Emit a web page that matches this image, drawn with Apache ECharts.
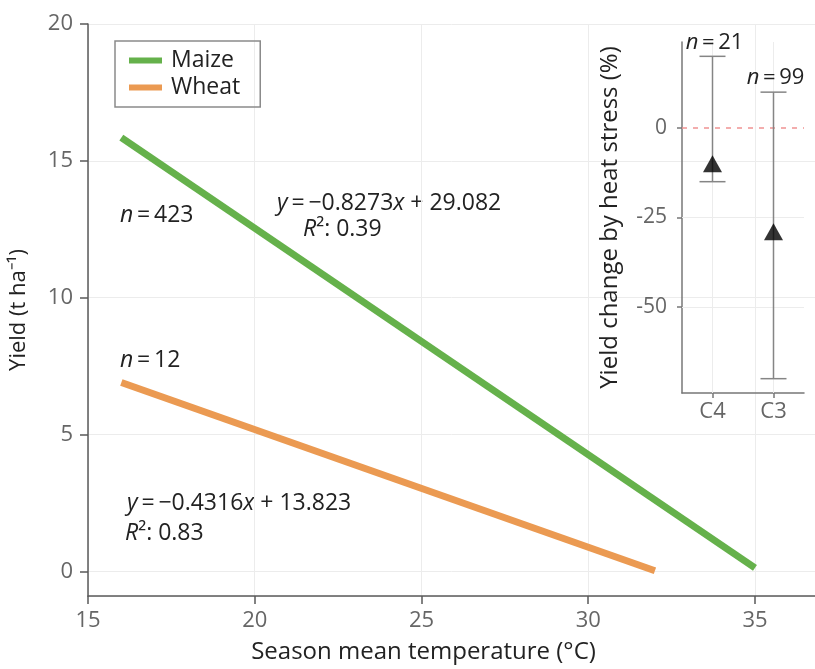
<!DOCTYPE html>
<html>
<head>
<meta charset="utf-8">
<script src="https://cdn.jsdelivr.net/npm/echarts@6/dist/echarts.min.js"></script>
<style>
  html, body { margin: 0; padding: 0; background: #fff; }
  #chart { width: 815px; height: 669px; }
</style>
</head>
<body>
<div id="chart"></div>
<script>
// main panel: fitted regression lines, end points
const maizeTemp = [16, 35];
const maizeYield = [15.85, 0.13];
const wheatTemp = [16, 32];
const wheatYield = [6.9, 0.02];

// inset: yield change by heat stress (%)
const insetCats = ['C4', 'C3'];
const insetMean = [-10, -29];
const insetLow = [-15, -70];
const insetHigh = [20, 10];
const insetN = [21, 99];
const insetTicks = [0, -25, -50];

const FONT = "'Open Sans', 'Liberation Sans', sans-serif";
const GREEN = '#65b14b';
const ORANGE = '#eb9a52';
const AXIS = '#5a5a5a';
const GRIDLINE = '#ececec';
const INK = '#222';
const TS = '\u2009'; // tight space around "="

const chart = echarts.init(document.getElementById('chart'));

const italic = { fontStyle: 'italic', fontSize: 23, fill: INK, fontFamily: FONT };
function note(x, y, text) {
    return {
        type: 'text',
        x: x,
        y: y,
        style: {
            text: text,
            rich: { i: italic },
            fontSize: 23,
            fontFamily: FONT,
            fill: INK,
            verticalAlign: 'middle'
        }
    };
}

const option = {
    animation: false,
    backgroundColor: '#fff',
    textStyle: { fontFamily: FONT },
    grid: [
        { left: 88, top: 24, width: 729, height: 574 },
        { left: 682, top: 42, width: 122, height: 351 }
    ],
    legend: {
        data: ['Maize', 'Wheat'],
        orient: 'vertical',
        left: 115,
        top: 41,
        padding: [8, 20, 8, 14],
        itemGap: 4,
        itemWidth: 33,
        itemHeight: 6,
        icon: 'rect',
        borderColor: '#8a8a8a',
        borderWidth: 1.5,
        textStyle: { fontSize: 23, color: INK, padding: [0, 0, 0, 4] }
    },
    xAxis: [
        {
            type: 'value',
            gridIndex: 0,
            min: 15,
            max: 36.8,
            interval: 5,
            name: 'Season mean temperature (°C)',
            nameLocation: 'middle',
            nameGap: 44,
            nameTextStyle: { fontSize: 24, color: INK, padding: [0, 56, 0, 0] },
            axisLine: { show: true, onZero: false, lineStyle: { color: AXIS, width: 1.5 } },
            axisTick: { show: true, length: 8, lineStyle: { color: AXIS, width: 1.5 } },
            axisLabel: { fontSize: 22, color: '#666', margin: 14, showMaxLabel: false },
            splitLine: { lineStyle: { color: GRIDLINE, width: 1 } }
        },
        {
            type: 'category',
            gridIndex: 1,
            data: insetCats,
            axisLine: { show: true, onZero: false, lineStyle: { color: '#777', width: 1.5 } },
            axisTick: { show: true, alignWithLabel: true, length: 5, lineStyle: { color: '#777', width: 1.5 } },
            axisLabel: { fontSize: 22, color: '#666', margin: 8 },
            splitLine: { show: false }
        }
    ],
    yAxis: [
        {
            type: 'value',
            gridIndex: 0,
            min: -0.9,
            max: 20,
            name: 'Yield (t ha⁻¹)',
            nameLocation: 'middle',
            nameGap: 58,
            nameTextStyle: { fontSize: 22, color: INK },
            axisLine: { show: true, onZero: false, lineStyle: { color: AXIS, width: 1.5 } },
            axisTick: { show: true, length: 8, lineStyle: { color: AXIS, width: 1.5 } },
            axisLabel: { fontSize: 22, color: '#666', margin: 15, showMinLabel: false },
            splitLine: { lineStyle: { color: GRIDLINE, width: 1 } }
        },
        {
            type: 'value',
            gridIndex: 1,
            min: -74,
            max: 24,
            name: 'Yield change by heat stress (%)',
            nameLocation: 'middle',
            nameGap: 60,
            nameTextStyle: { fontSize: 24, color: INK },
            axisLine: { show: true, onZero: false, lineStyle: { color: '#777', width: 1.5 } },
            axisTick: { show: true, customValues: insetTicks, length: 5, lineStyle: { color: '#777', width: 1.5 } },
            axisLabel: { customValues: insetTicks, fontSize: 21, color: '#666', margin: 15 },
            splitLine: { show: false }
        }
    ],
    series: [
        {
            name: 'Maize',
            type: 'line',
            xAxisIndex: 0,
            yAxisIndex: 0,
            data: maizeTemp.map((t, i) => [t, maizeYield[i]]),
            symbol: 'none',
            itemStyle: { color: GREEN },
            lineStyle: { color: GREEN, width: 7 }
        },
        {
            name: 'Wheat',
            type: 'line',
            xAxisIndex: 0,
            yAxisIndex: 0,
            data: wheatTemp.map((t, i) => [t, wheatYield[i]]),
            symbol: 'none',
            itemStyle: { color: ORANGE },
            lineStyle: { color: ORANGE, width: 7 }
        },
        {
            // error bars + sample size labels of the inset
            type: 'custom',
            xAxisIndex: 1,
            yAxisIndex: 1,
            z: 3,
            data: insetCats.map((c, i) => [i, insetLow[i], insetHigh[i], insetN[i]]),
            renderItem: (params, api) => {
                const top = api.coord([api.value(0), api.value(2)]);
                const bot = api.coord([api.value(0), api.value(1)]);
                const cs = params.coordSys;
                const st = { stroke: '#858585', lineWidth: 1.5 };
                return {
                    type: 'group',
                    children: [
                        // faint category guide line through the whole inset
                        { type: 'line', z2: -1, shape: { x1: top[0], y1: cs.y, x2: top[0], y2: cs.y + cs.height }, style: { stroke: GRIDLINE, lineWidth: 1 } },
                        { type: 'line', shape: { x1: top[0], y1: top[1], x2: bot[0], y2: bot[1] }, style: st },
                        { type: 'line', shape: { x1: top[0] - 13, y1: top[1], x2: top[0] + 13, y2: top[1] }, style: st },
                        { type: 'line', shape: { x1: bot[0] - 13, y1: bot[1], x2: bot[0] + 13, y2: bot[1] }, style: st },
                        {
                            type: 'text',
                            x: top[0] + 2,
                            y: top[1] - 3,
                            style: {
                                text: '{i|n}' + TS + '=' + TS + api.value(3),
                                rich: { i: { fontStyle: 'italic', fontSize: 22, fill: INK, fontFamily: FONT } },
                                fontSize: 22,
                                fontFamily: FONT,
                                fill: INK,
                                align: 'center',
                                verticalAlign: 'bottom'
                            }
                        }
                    ]
                };
            },
            markLine: {
                silent: true,
                symbol: 'none',
                z: 1,
                label: { show: false },
                data: [
                    { yAxis: -25, lineStyle: { color: GRIDLINE, type: 'solid', width: 1 } },
                    { yAxis: -50, lineStyle: { color: GRIDLINE, type: 'solid', width: 1 } },
                    { yAxis: 0, lineStyle: { color: '#f09393', type: [5, 6], width: 1.5 } }
                ]
            }
        },
        {
            type: 'scatter',
            xAxisIndex: 1,
            yAxisIndex: 1,
            z: 4,
            data: insetMean,
            symbol: 'triangle',
            symbolSize: [19, 17],
            itemStyle: { color: '#000' }
        }
    ],
    graphic: [
        note(120, 215, '{i|n}' + TS + '=' + TS + '423'),
        note(277, 203, '{i|y}' + TS + '=' + TS + '−0.8273{i|x} + 29.082'),
        note(303, 229, '{i|R}²: 0.39'),
        note(120, 360, '{i|n}' + TS + '=' + TS + '12'),
        note(127, 503, '{i|y}' + TS + '=' + TS + '−0.4316{i|x} + 13.823'),
        note(125, 533, '{i|R}²: 0.83')
    ]
};

chart.setOption(option);
</script>
</body>
</html>
